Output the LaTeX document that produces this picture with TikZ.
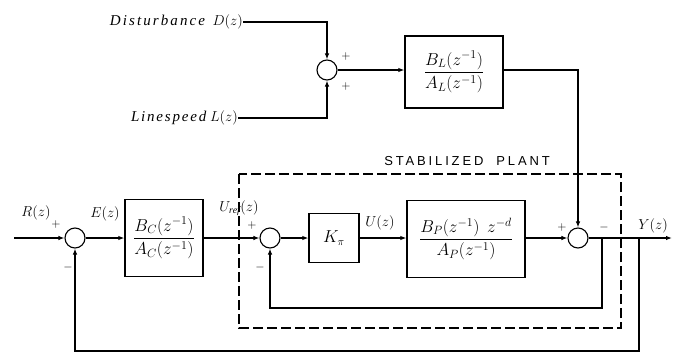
\documentclass[tikz,border=0pt]{standalone}
\usepackage{amsmath}
\usepackage{fontspec}
\setmainfont{Liberation Serif}
\newfontfamily\lsserif[LetterSpace=14]{Liberation Serif}
\newfontfamily\lsserifb[LetterSpace=12]{Liberation Serif}
\newfontfamily\lssans[LetterSpace=22]{Liberation Sans}
\usetikzlibrary{arrows.meta,calc}
\begin{document}
\begin{tikzpicture}[x=1pt,y=-1pt,
  sum/.style={draw,circle,minimum size=20pt,inner sep=0pt,line width=1.1pt},
  blk/.style={draw,line width=1.4pt,inner sep=0pt},
  wire/.style={line width=1.1pt},
  arr/.style={wire,-{Latex[length=6pt,width=4.5pt]}},
  lbl/.style={font=\fontsize{14}{16}\selectfont,inner sep=0pt},
  toplbl/.style={font=\fontsize{15}{17}\selectfont,inner sep=0pt},
  sgn/.style={font=\fontsize{12}{14}\selectfont,inner sep=0pt},
  plantbox/.style={line width=1.1pt,dash pattern=on 10pt off 4pt}
]
\useasboundingbox (0,0) rectangle (677,362);
% top branch
\node[toplbl,anchor=east] (D) at (243,22) {{\lsserif\itshape Disturbance}\ \ $D(z)$};
\node[toplbl,anchor=east] (L) at (238,118) {{\lsserifb\itshape Linespeed}\ $L(z)$};
\node[sum] (S1) at (327,70) {};
\node[sgn] at (346,56) {$+$};
\node[sgn] at (346,86) {$+$};
\node[blk,minimum width=98pt,minimum height=72pt] (BL) at (454,72)
  {\fontsize{17}{19}\selectfont$\dfrac{B_L(z^{-1})}{A_L(z^{-1})}$};
\draw[arr] (D.east) -| (S1.north);
\draw[arr] (L.east) -| (S1.south);
\draw[arr] (S1.east) -- (S1.east -| BL.west);
% main loop
\coordinate (in) at (14,238);
\coordinate (out) at (672,238);
\node[sum] (S0) at (75,238) {};
\node[blk,minimum width=78pt,minimum height=77pt] (BC) at (164,238)
  {\fontsize{17}{19}\selectfont$\dfrac{B_C(z^{-1})}{A_C(z^{-1})}$};
\node[sum] (S2) at (270,238) {};
\node[blk,minimum width=50pt,minimum height=49pt] (K) at (334,238)
  {\fontsize{16}{18}\selectfont$K_{\pi}$};
\node[blk,minimum width=118pt,minimum height=77pt] (BP) at (466,239)
  {\fontsize{17}{19}\selectfont$\dfrac{B_P(z^{-1})\;\, z^{-d}}{A_P(z^{-1})}$};
\node[sum] (S3) at (578,238) {};
\draw[arr] (BL.east |- S1.east) -| (S3.north);
\draw[arr] (in) -- (S0.west);
\draw[arr] (S0.east) -- (BC.west);
\draw[arr] (BC.east) -- (S2.west);
\draw[arr] (S2.east) -- (K.west);
\draw[arr] (K.east) -- (BP.west |- K.east);
\draw[arr] (BP.east |- S3.west) -- (S3.west);
\draw[arr] (S3.east) -- (out);
\coordinate (fb1) at (602,238);
\coordinate (ifb) at (602,308);
\draw[arr] (fb1) -- (ifb) -| (S2.south);
\coordinate (fb2) at (639,238);
\coordinate (ofb) at (639,351);
\draw[arr] (fb2) -- (ofb) -| (S0.south);
% stabilized plant
\draw[plantbox] (239,174) rectangle (621,328);
\node[font=\fontsize{13}{15}\selectfont\lssans,inner sep=0pt] at (467,161) {STABILIZED\ \ PLANT};
% labels
\node[lbl] at (36,213) {$R(z)$};
\node[sgn] at (56,224) {$+$};
\node[sgn] at (68,267) {$-$};
\node[lbl] at (105,214) {$E(z)$};
\node[lbl] at (239,208) {$U_{\mathit{ref}}(z)$};
\node[sgn] at (252,225) {$+$};
\node[sgn] at (260,267) {$-$};
\node[lbl] at (380,223) {$U(z)$};
\node[sgn] at (562,227) {$+$};
\node[sgn] at (604,227) {$-$};
\node[lbl] at (653,226) {$Y(z)$};
\end{tikzpicture}
\end{document}
